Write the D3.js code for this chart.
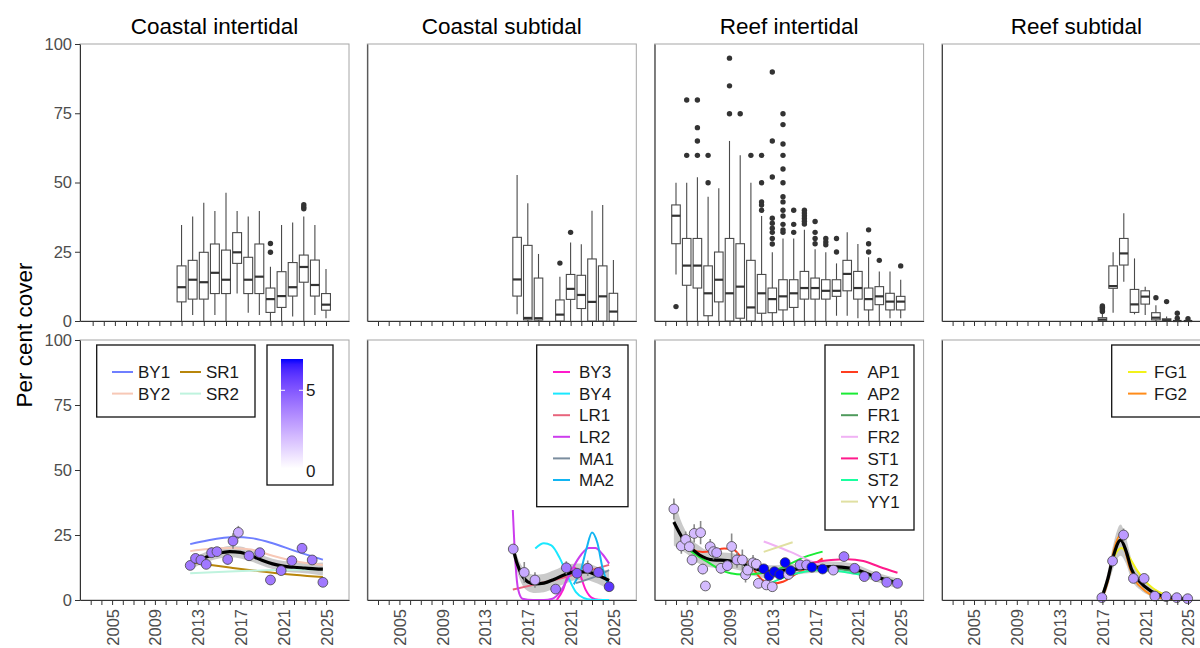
<!DOCTYPE html>
<html>
<head>
<meta charset="utf-8">
<script src="https://cdn.jsdelivr.net/npm/d3@7"></script>
<style>
  body { margin: 0; background: #fff; }
  text { font-family: "Liberation Sans", Arial, sans-serif; }
</style>
</head>
<body>
<svg id="chart" width="1200" height="648"></svg>
<script>
// ---- data ----
const panelTitles = ["Coastal intertidal", "Coastal subtidal", "Reef intertidal", "Reef subtidal"];
const yTicks = [0, 25, 50, 75, 100];
const yearLabels = [2005, 2009, 2013, 2017, 2021, 2025];

// boxplots: [year, lower whisker, q1, median, q3, upper whisker]
const boxCI = [
  [2012, 0, 6.9, 12.2, 19.9, 34.7], [2013, 2.2, 7.9, 14.9, 21.9, 37.7], [2014, 0, 7.9, 14, 24.8, 42.7],
  [2015, 2.2, 9.9, 17.4, 27.8, 39.7], [2016, 0, 9.9, 14.9, 25.6, 46.3], [2017, 9.9, 20.8, 24.8, 31.9, 39.7],
  [2018, 3, 9.9, 14.9, 23, 37.7], [2019, 2.2, 9.9, 16, 27.8, 39.7], [2020, 0, 3.1, 7.9, 11.9, 19.6],
  [2021, 0, 4.9, 9, 17.8, 34.7], [2022, 1.6, 9, 12.2, 21.1, 35.6], [2023, 0, 14, 19.5, 23.8, 37.7],
  [2024, 2.2, 9, 13, 22, 34.7], [2025, 1, 3.9, 5.9, 9.9, 18.8]
];
const outCI = [[2020, 24.8], [2020, 28], [2023, 40.5], [2023, 41.2], [2023, 42]];

const boxCS = [
  [2016, 2.4, 9, 15, 30.2, 52.7], [2017, 0, 0.4, 1.1, 27.3, 42.5], [2018, 0, 0.3, 1, 15.5, 24.2],
  [2020, 0, 0, 2.3, 7.6, 16], [2021, 0, 7.8, 11.6, 16.8, 28.3], [2022, 0, 4.5, 9.4, 16.5, 27.7],
  [2023, 0, 0, 6.9, 22.4, 39.8], [2024, 0, 0, 8.9, 19.9, 41.9], [2025, 0, 0, 3.4, 10, 22]
];
const outCS = [[2020, 20.9], [2021, 32]];

const boxRI = [
  [2004, 16.8, 27.9, 38, 41.9, 49.9], [2005, 0, 12.9, 20, 29.8, 49.9], [2006, 0, 11.9, 20, 29.8, 51.9],
  [2007, 0, 1.9, 10, 19.9, 44.9], [2008, 0, 6.9, 14.9, 24.9, 47.9], [2009, 0, 0, 10, 29.8, 65],
  [2010, 0, 1, 12.4, 27.9, 59.8], [2011, 0, 0, 4.9, 21.9, 49.9], [2012, 0, 2.8, 10, 16.8, 37.9],
  [2013, 0, 3, 7.9, 11.9, 24.8], [2014, 0, 4, 8.9, 14.9, 29.8], [2015, 0, 4.9, 10, 14.9, 29.8],
  [2016, 0, 7.9, 11.9, 17.9, 32.9], [2017, 0, 7.9, 11.9, 15.5, 25.9], [2018, 0, 7.9, 10.9, 14.9, 24.8],
  [2019, 1.9, 8.9, 10.9, 14.9, 20.8], [2020, 1.9, 10.9, 17, 21.9, 32], [2021, 1, 7.9, 11.9, 17.9, 27.8],
  [2022, 0, 4, 7.9, 11.9, 23], [2023, 0, 5.9, 8.9, 12.4, 17.9], [2024, 1, 4, 7, 10, 17.9],
  [2025, 1, 4, 7, 8.9, 14.9]
];
const outRI = [
  [2004, 5.2], [2005, 79.8], [2005, 59.8], [2006, 79.8], [2006, 69.8], [2006, 65], [2006, 59.8],
  [2007, 59.8], [2007, 49.9], [2009, 94.9], [2009, 84.9], [2009, 74.8], [2010, 74.8], [2011, 59.8],
  [2012, 59.8], [2012, 49.9], [2012, 43], [2012, 41.9], [2012, 40],
  [2013, 89.9], [2013, 65], [2013, 52], [2013, 37.1], [2013, 35.3], [2013, 33.5], [2013, 32], [2013, 29.8], [2013, 27.8],
  [2014, 74.8], [2014, 70.9], [2014, 63.9], [2014, 59.8], [2014, 54.9], [2014, 49.9], [2014, 44.9], [2014, 43],
  [2014, 40], [2014, 37.9], [2014, 34.9], [2014, 32.9], [2014, 32],
  [2015, 40], [2015, 34.9], [2015, 32],
  [2016, 40], [2016, 39], [2016, 38], [2016, 37], [2016, 36], [2016, 35],
  [2017, 35.9], [2017, 32], [2017, 29.8], [2017, 27.9],
  [2018, 29.8], [2018, 28.5], [2018, 27.5], [2019, 29.8], [2019, 24.9],
  [2022, 32.9], [2022, 27.9], [2022, 24.9], [2023, 21.9], [2025, 19.9]
];

const boxRS = [
  [2017, 0, 0, 0.5, 1.2, 2.5], [2018, 3, 11.8, 12.6, 19.9, 24.8], [2019, 14.2, 20.2, 24.4, 29.8, 38.9],
  [2020, 2.4, 3.1, 6, 11.4, 22.6], [2021, 2.2, 6.1, 8.8, 10.9, 12.4], [2022, 0, 0.4, 1.2, 3, 5.7],
  [2023, 0, 0, 0.3, 0.8, 1.6], [2024, 0, 0, 0, 0, 0], [2025, 0, 0, 0, 0, 0]
];
const outRS = [
  [2017, 3.4], [2017, 4], [2017, 4.5], [2017, 5], [2017, 5.4], [2022, 8.4], [2023, 7],
  [2024, 1], [2024, 2.8], [2025, 0.8]
];

// survey means: [year, mean cover, standard error, number of sites]
const ptsCI = [
  [2012.3, 13.3, 1.5, 4], [2012.8, 16, 1.8, 4], [2013.3, 15.4, 1.5, 4], [2013.8, 13.7, 1.5, 4],
  [2014.3, 18.2, 2, 4], [2014.8, 18.6, 1.8, 4], [2015.8, 15.6, 2, 4], [2016.3, 22.7, 3, 4],
  [2016.8, 26, 2.5, 2.5], [2017.8, 17, 1.8, 4], [2018.8, 18.2, 1.8, 4], [2019.8, 7.7, 1.2, 4],
  [2020.8, 11.3, 1.5, 4], [2021.8, 15.1, 1.5, 4], [2022.75, 19.9, 1.8, 4], [2023.7, 15.4, 1.5, 4],
  [2024.7, 6.8, 1, 4]
];
const ptsCS = [
  [2015.64, 19.6, 1.5, 3], [2016.67, 10.6, 4, 2.5], [2017.67, 7.7, 3, 2.5], [2019.6, 4.2, 1.5, 4],
  [2020.6, 12.4, 2.5, 4], [2021.6, 10.3, 2, 5], [2022.6, 12.2, 3, 4], [2023.6, 10.6, 2, 5],
  [2024.6, 5.1, 1, 6]
];
const ptsRI = [
  [2003.8, 35, 4, 2], [2004.5, 20.8, 3, 2], [2004.9, 23.3, 3, 2], [2005.25, 20.5, 2, 2],
  [2005.5, 15.4, 2, 2], [2005.7, 25.6, 3.5, 2], [2006.3, 25.9, 4.5, 2], [2006.5, 11.9, 2, 2],
  [2006.75, 5.4, 1.5, 2], [2007.2, 20.5, 3, 2], [2007.5, 18.6, 3, 2], [2007.8, 18.2, 2, 2.5],
  [2008.2, 12.2, 2, 2], [2008.8, 13.2, 2, 2.5], [2009.2, 20.6, 5, 2], [2009.7, 15.4, 3, 2.5],
  [2010.2, 15.4, 4, 2], [2010.5, 9.7, 3, 2], [2010.7, 11.5, 3, 2], [2011.2, 14.3, 3, 2],
  [2011.5, 13.8, 2, 2], [2011.7, 6.4, 1.5, 2], [2012.2, 12, 1.5, 7], [2012.45, 5.8, 1.5, 2],
  [2012.7, 9.3, 1.5, 7], [2013, 5.1, 1, 2], [2013.2, 10.9, 1.5, 7], [2013.7, 9.8, 1.5, 7],
  [2014.2, 14.4, 1.5, 7], [2014.5, 9.8, 1.5, 2], [2014.7, 11.3, 1.5, 7], [2015.6, 13.5, 1.5, 3],
  [2016.2, 13.5, 1.5, 3], [2016.7, 12.6, 1.5, 7], [2017.7, 11.9, 1.5, 7], [2018.7, 11.5, 1.5, 2.5],
  [2019.7, 16.7, 1.5, 4], [2020.7, 12.2, 1.5, 4], [2021.6, 9, 1, 4], [2022.7, 9, 1, 4],
  [2023.7, 6.8, 1, 4], [2024.7, 6.4, 1, 4]
];
const ptsRS = [
  [2016.95, 0.9, 0.5, 3], [2017.95, 15, 2, 3], [2018.98, 25, 2.5, 3], [2019.9, 8.3, 1.5, 3],
  [2020.9, 8.3, 1.5, 3], [2021.9, 1.5, 0.5, 3], [2022.95, 1.3, 0.5, 3], [2023.95, 0.9, 0.4, 3],
  [2024.97, 0.5, 0.3, 3]
];

// smoothed mean trend: [year, fit, half width of band]
const meanCI = [
  [2012.3, 14, 2.5], [2013, 15.2, 2], [2014, 16.8, 2], [2015, 18, 2], [2016, 18.6, 2.2], [2017, 18.3, 2.3],
  [2018, 17, 2.2], [2019, 15.3, 2], [2020, 13.9, 2], [2021, 13, 2], [2022, 12.6, 2], [2023, 12.3, 2],
  [2024, 12, 2.2], [2024.7, 11.9, 2.5]
];
const meanCS = [
  [2015.64, 19.6, 3], [2016, 14, 3], [2016.5, 9.2, 3.5], [2017, 7, 3.5], [2017.7, 6.2, 3.5],
  [2018.5, 6.5, 3.5], [2019.5, 8, 3.5], [2020.5, 9.8, 3.5], [2021.5, 10.8, 3.2], [2022.5, 10.8, 3.2],
  [2023.5, 9.5, 3.2], [2024.6, 7.5, 3.5]
];
const meanRI = [
  [2003.8, 30, 9], [2004.5, 24.6, 5.5], [2005, 21.8, 4], [2006.2, 17.3, 3.5], [2007.5, 15.4, 3],
  [2008.8, 15.2, 3], [2010, 14.3, 3], [2011.3, 12.2, 3], [2012.5, 10.9, 2.5], [2014.1, 11.3, 2.2],
  [2016, 12.2, 2], [2018.5, 12.8, 2], [2020.4, 12.2, 2], [2022.3, 9.4, 1.8], [2024.7, 6.4, 2]
];
const meanRS = [
  [2016.95, 1, 1.5], [2017.5, 8, 3], [2018, 16.5, 4.5], [2018.7, 23, 6], [2019.2, 19, 5], [2019.7, 12, 4],
  [2020.5, 7, 3], [2021.5, 3.5, 2], [2022.5, 1.6, 1.5], [2023.5, 0.8, 1], [2024.97, 0.3, 1]
];

// site trends: [year, fitted cover]
const lineBY1 = [[2012.3, 21.5], [2014, 23], [2016.5, 24.2], [2018, 23.8], [2020, 21.8], [2022, 19], [2024.7, 15.5]];
const lineBY2 = [[2012.3, 18.8], [2014, 19.6], [2016, 20], [2018, 19.4], [2020, 17], [2022, 15], [2024.7, 13.5]];
const lineSR1 = [[2012.3, 14.5], [2016, 12.5], [2020, 10.5], [2024.7, 8.8]];
const lineSR2 = [[2012.3, 10.3], [2016, 11], [2020, 11.5], [2024.7, 11.8]];

const lineBY3 = [[2019.7, 0], [2020.3, 4], [2020.8, 10], [2021.3, 12.5], [2021.8, 10.5], [2022.4, 4], [2023, 0.8], [2023.6, 0.1], [2024.6, 0]];
const lineBY4 = [[2017.7, 19.8], [2018.5, 21.8], [2019.2, 21], [2020, 16], [2020.8, 8.5], [2021.5, 3], [2022.2, 0.8], [2023, 0.1], [2024.6, 0]];
const lineLR1 = [[2015.6, 4], [2018, 6.3], [2020, 8.3], [2022, 10.5], [2024.6, 13.5]];
const lineLR2 = [[2015.6, 34.6], [2015.85, 14], [2016.1, 4], [2016.5, 0.5], [2017.5, 0], [2018.5, 0], [2019.3, 0.5], [2020, 3], [2020.7, 8], [2021.3, 13], [2022, 17.5], [2022.7, 20], [2023.3, 20], [2024, 17.5], [2024.6, 14]];
const lineMA1 = [[2021.5, 6.5], [2023, 8.5], [2024.6, 11.5]];
const lineMA2 = [[2021.3, 6], [2022, 12], [2022.5, 20], [2023, 26], [2023.5, 22], [2024, 12], [2024.6, 5]];

const lineAP1 = [[2004.5, 23], [2005.5, 19.5], [2006.5, 18.5], [2007.5, 19], [2008.5, 19.8], [2009.3, 19.5], [2010, 17], [2011, 13], [2012, 8], [2013, 6.3], [2014, 7], [2015, 9.5], [2016, 11.8], [2017, 14], [2017.7, 16]];
const lineAP2 = [[2005.3, 19], [2006.2, 16.5], [2007.2, 14], [2008.2, 11.5], [2009.1, 10.3], [2010.3, 9.8], [2011.9, 10.3], [2013.5, 11.8], [2014.7, 14], [2016, 16.5], [2017.7, 18.6]];
const lineFR1 = [[2012.2, 11], [2014, 11.8], [2016, 12.2], [2018, 12], [2020, 11.5], [2022, 9.5], [2024.7, 7]];
const lineFR2 = [[2012.2, 22.5], [2013.5, 20.5], [2014.7, 18.5], [2016, 16], [2017.5, 13.5], [2019, 11.5], [2020.7, 10]];
const lineST1 = [[2015.8, 13], [2017, 14.5], [2018.5, 15.4], [2020, 15.7], [2021.5, 15], [2023, 12.8], [2024.7, 10.5]];
const lineST2 = [[2013, 6.8], [2014, 8.5], [2015.5, 10.5], [2017.5, 11.5], [2019.5, 11], [2021.5, 9.5], [2023, 8.3], [2024.7, 6.7]];
const lineYY1 = [[2012.2, 18.5], [2014.9, 22.2]];

const lineFG1 = [[2016.95, 1.5], [2017.5, 8], [2018, 15.5], [2018.8, 20], [2019.5, 16.5], [2020.3, 11], [2021.3, 6], [2022.3, 3], [2023.5, 1.2], [2024.97, 0.5]];
const lineFG2 = [[2016.95, 0.5], [2017.5, 7], [2018, 18], [2018.6, 24.5], [2019, 21], [2019.5, 13], [2020, 8], [2021, 3.5], [2022, 1.2], [2023, 0.5], [2024.97, 0.2]];

const sitesCI = [["BY1", lineBY1], ["BY2", lineBY2], ["SR1", lineSR1], ["SR2", lineSR2]];
const sitesCS = [["BY3", lineBY3], ["BY4", lineBY4], ["LR1", lineLR1], ["LR2", lineLR2], ["MA1", lineMA1], ["MA2", lineMA2]];
const sitesRI = [["AP1", lineAP1], ["AP2", lineAP2], ["FR1", lineFR1], ["FR2", lineFR2], ["ST1", lineST1], ["ST2", lineST2], ["YY1", lineYY1]];
const sitesRS = [["FG1", lineFG1], ["FG2", lineFG2]];

const nLimits = [0, 7];
const nBreaks = [0, 5];

const siteColors = {
  BY1: "#6f7fff", BY2: "#f7c8b6", SR1: "#b8860b", SR2: "#bff3de",
  BY3: "#ff1acb", BY4: "#1ae8ff", LR1: "#e8647c", LR2: "#cc3ded", MA1: "#7b8d9e", MA2: "#12b5f2",
  AP1: "#ff3d1f", AP2: "#1aeb35", FR1: "#4f9a5c", FR2: "#f0b2f4", ST1: "#ff1a8c", ST2: "#1aff9f", YY1: "#e0e0a2",
  FG1: "#f2f21a", FG2: "#ff8c1a"
};

// ---- layout ----
const svg = d3.select("#chart");
const panelW = 269;
const lefts = [0, 1, 2, 3].map(i => 80 + i * 287.3);
const topRow = { y0: 321, y1: 44 };
const botRow = { y0: 600, y1: 340 };
const axisCol = "#333333";
const labelCol = "#4d4d4d";

const boxes = [boxCI, boxCS, boxRI, boxRS];
const outliers = [outCI, outCS, outRI, outRS];
const points = [ptsCI, ptsCS, ptsRI, ptsRS];
const means = [meanCI, meanCS, meanRI, meanRS];
const sites = [sitesCI, sitesCS, sitesRI, sitesRS];

const yTop = d3.scaleLinear().domain([0, 100]).range([topRow.y0, topRow.y1]);
const yBot = d3.scaleLinear().domain([0, 100]).range([botRow.y0, botRow.y1]);
const fillScale = d3.scaleLinear().domain(nLimits).range(["#ffffff", "#0000ff"]).interpolate(d3.interpolateLab);

const defs = svg.append("defs");

lefts.forEach((left, i) => {
  // top row x scale: coastal intertidal has its own year range
  const xTop = i === 0
    ? d3.scaleLinear().domain([2002.86, 2027.07]).range([left, left + panelW])
    : d3.scaleLinear().domain([2002, 2027.14]).range([left, left + panelW]);
  const topYears = i === 0 ? d3.range(2004, 2026) : d3.range(2003, 2026);
  const xBot = d3.scaleLinear().domain([2002, 2027.14]).range([left, left + panelW]);

  // title
  svg.append("text")
    .attr("x", left + panelW / 2).attr("y", 34)
    .attr("text-anchor", "middle")
    .style("font-size", "22.5px").style("fill", "#000")
    .text(panelTitles[i]);

  // ---------- top row: boxplots ----------
  svg.append("rect")
    .attr("x", left).attr("y", topRow.y1).attr("width", panelW).attr("height", topRow.y0 - topRow.y1)
    .attr("fill", "none").attr("stroke", "#a6a6a6").attr("stroke-width", 1);

  const gTop = svg.append("g");
  const bw = (xTop(2001) - xTop(2000)) * 0.8;
  const bx = gTop.selectAll(".box").data(boxes[i]).enter().append("g");
  bx.append("line")
    .attr("x1", d => xTop(d[0])).attr("x2", d => xTop(d[0]))
    .attr("y1", d => yTop(d[1])).attr("y2", d => yTop(d[5]))
    .attr("stroke", "#4a4a4a").attr("stroke-width", 1.1);
  bx.append("rect")
    .attr("x", d => xTop(d[0]) - bw / 2).attr("width", bw)
    .attr("y", d => yTop(d[4])).attr("height", d => yTop(d[2]) - yTop(d[4]))
    .attr("fill", "#fff").attr("stroke", "#4a4a4a").attr("stroke-width", 1.1);
  bx.append("line")
    .attr("x1", d => xTop(d[0]) - bw / 2).attr("x2", d => xTop(d[0]) + bw / 2)
    .attr("y1", d => yTop(d[3])).attr("y2", d => yTop(d[3]))
    .attr("stroke", "#333").attr("stroke-width", 2.2);
  gTop.selectAll(".out").data(outliers[i]).enter().append("circle")
    .attr("cx", d => xTop(d[0])).attr("cy", d => yTop(d[1])).attr("r", 2.7)
    .attr("fill", "#333");

  const axTop = svg.append("g").attr("transform", `translate(0,${topRow.y0})`)
    .call(d3.axisBottom(xTop).tickValues(topYears).tickSize(5).tickSizeOuter(0).tickFormat(""));
  axTop.selectAll("line, path").attr("stroke", axisCol);

  const ayTop = svg.append("g").attr("transform", `translate(${left},0)`)
    .call(d3.axisLeft(yTop).tickValues(i === 0 ? yTicks : []).tickSize(5).tickSizeOuter(0));
  ayTop.selectAll("line, path").attr("stroke", axisCol);
  ayTop.selectAll("text").style("font-size", "16.5px").style("fill", labelCol)
    .style("font-family", "Liberation Sans, Arial, sans-serif");

  // ---------- bottom row: trends ----------
  svg.append("rect")
    .attr("x", left).attr("y", botRow.y1).attr("width", panelW).attr("height", botRow.y0 - botRow.y1)
    .attr("fill", "none").attr("stroke", "#a6a6a6").attr("stroke-width", 1);

  defs.append("clipPath").attr("id", "clip" + i).append("rect")
    .attr("x", left).attr("y", botRow.y1).attr("width", panelW).attr("height", botRow.y0 - botRow.y1);
  const gBot = svg.append("g").attr("clip-path", `url(#clip${i})`);

  const band = d3.area()
    .x(d => xBot(d[0])).y0(d => yBot(d[1] - d[2])).y1(d => yBot(d[1] + d[2]))
    .curve(d3.curveMonotoneX);
  gBot.append("path").datum(means[i]).attr("d", band)
    .attr("fill", "#b3b3b3").attr("fill-opacity", 0.7);

  const line = d3.line().x(d => xBot(d[0])).y(d => yBot(d[1])).curve(d3.curveMonotoneX);
  sites[i].forEach(([name, vals]) => {
    gBot.append("path").datum(vals).attr("d", line)
      .attr("fill", "none").attr("stroke", siteColors[name]).attr("stroke-width", 2);
  });

  gBot.append("path").datum(means[i]).attr("d", line)
    .attr("fill", "none").attr("stroke", "#000").attr("stroke-width", 3.2);

  gBot.selectAll(".err").data(points[i]).enter().append("line")
    .attr("x1", d => xBot(d[0])).attr("x2", d => xBot(d[0]))
    .attr("y1", d => yBot(d[1] - d[2])).attr("y2", d => yBot(d[1] + d[2]))
    .attr("stroke", "#8a8a8a").attr("stroke-width", 1.6);
  svg.append("g").selectAll(".pt").data(points[i]).enter().append("circle")
    .attr("cx", d => xBot(d[0])).attr("cy", d => yBot(d[1])).attr("r", 4.9)
    .attr("fill", d => fillScale(d[3])).attr("stroke", "#444").attr("stroke-width", 0.8);

  const axBot = svg.append("g").attr("transform", `translate(0,${botRow.y0})`)
    .call(d3.axisBottom(xBot).tickValues(d3.range(2003, 2026)).tickSize(5).tickSizeOuter(0)
      .tickFormat(d => yearLabels.includes(d) ? d : ""));
  axBot.selectAll("line, path").attr("stroke", axisCol);
  axBot.selectAll("text")
    .attr("transform", "rotate(-90)")
    .attr("x", -9).attr("y", 0).attr("dy", "0.36em")
    .attr("text-anchor", "end")
    .style("font-size", "16.5px").style("fill", labelCol)
    .style("font-family", "Liberation Sans, Arial, sans-serif");

  const ayBot = svg.append("g").attr("transform", `translate(${left},0)`)
    .call(d3.axisLeft(yBot).tickValues(i === 0 ? yTicks : []).tickSize(5).tickSizeOuter(0));
  ayBot.selectAll("line, path").attr("stroke", axisCol);
  ayBot.selectAll("text").style("font-size", "16.5px").style("fill", labelCol)
    .style("font-family", "Liberation Sans, Arial, sans-serif");
});

// ---- legends ----
const legendBoxes = [
  { x: 96.7, y: 345, w: 158.3, h: 72, keyX: 112, keyLen: 21, textX: 138, cols: 2, colGap: 68 },
  { x: 536.7, y: 345, w: 91.3, h: 161.7, keyX: 553, keyLen: 17, textX: 579, cols: 1 },
  { x: 825, y: 345, w: 89, h: 185, keyX: 841, keyLen: 17, textX: 867.5, cols: 1 },
  { x: 1111.7, y: 345, w: 100, h: 72, keyX: 1128, keyLen: 18.5, textX: 1154, cols: 1 }
];
legendBoxes.forEach((lb, i) => {
  const g = svg.append("g");
  g.append("rect").attr("x", lb.x).attr("y", lb.y).attr("width", lb.w).attr("height", lb.h)
    .attr("fill", "#fff").attr("stroke", "#111").attr("stroke-width", 1.3);
  const names = sites[i].map(s => s[0]);
  const rows = lb.cols === 2 ? 2 : names.length;
  names.forEach((name, k) => {
    const col = Math.floor(k / rows), row = k % rows;
    const dx = col * (lb.colGap || 0);
    const yy = 372 + row * 21.6;
    g.append("line")
      .attr("x1", lb.keyX + dx).attr("x2", lb.keyX + dx + lb.keyLen)
      .attr("y1", yy).attr("y2", yy)
      .attr("stroke", siteColors[name]).attr("stroke-width", 2);
    g.append("text").attr("x", lb.textX + dx).attr("y", yy).attr("dy", "0.36em")
      .style("font-size", "17px").style("fill", "#1a1a1a").text(name);
  });
});

// ---- colour bar for number of sites ----
const cb = svg.append("g");
cb.append("rect").attr("x", 267).attr("y", 345).attr("width", 66).attr("height", 140)
  .attr("fill", "#fff").attr("stroke", "#111").attr("stroke-width", 1.3);
const cbY = d3.scaleLinear().domain(nLimits).range([468.5, 359]);
const grad = defs.append("linearGradient").attr("id", "cbgrad")
  .attr("x1", 0).attr("y1", 1).attr("x2", 0).attr("y2", 0);
d3.range(0, 1.01, 0.05).forEach(t => {
  grad.append("stop").attr("offset", t).attr("stop-color", fillScale(nLimits[0] + t * (nLimits[1] - nLimits[0])));
});
cb.append("rect").attr("x", 281).attr("y", cbY(nLimits[1])).attr("width", 22)
  .attr("height", cbY(nLimits[0]) - cbY(nLimits[1])).attr("fill", "url(#cbgrad)");
nBreaks.forEach(v => {
  cb.append("line").attr("x1", 281).attr("x2", 285).attr("y1", cbY(v)).attr("y2", cbY(v))
    .attr("stroke", "#fff").attr("stroke-width", 1);
  cb.append("line").attr("x1", 299).attr("x2", 303).attr("y1", cbY(v)).attr("y2", cbY(v))
    .attr("stroke", "#fff").attr("stroke-width", 1);
  cb.append("text").attr("x", 306).attr("y", cbY(v) + (v === 0 ? 2 : 0)).attr("dy", "0.36em")
    .style("font-size", "17px").style("fill", "#1a1a1a").text(v);
});

// ---- y title ----
svg.append("text")
  .attr("transform", "translate(32,335) rotate(-90)")
  .attr("text-anchor", "middle")
  .style("font-size", "22.5px").style("fill", "#000")
  .text("Per cent cover");
</script>
</body>
</html>
